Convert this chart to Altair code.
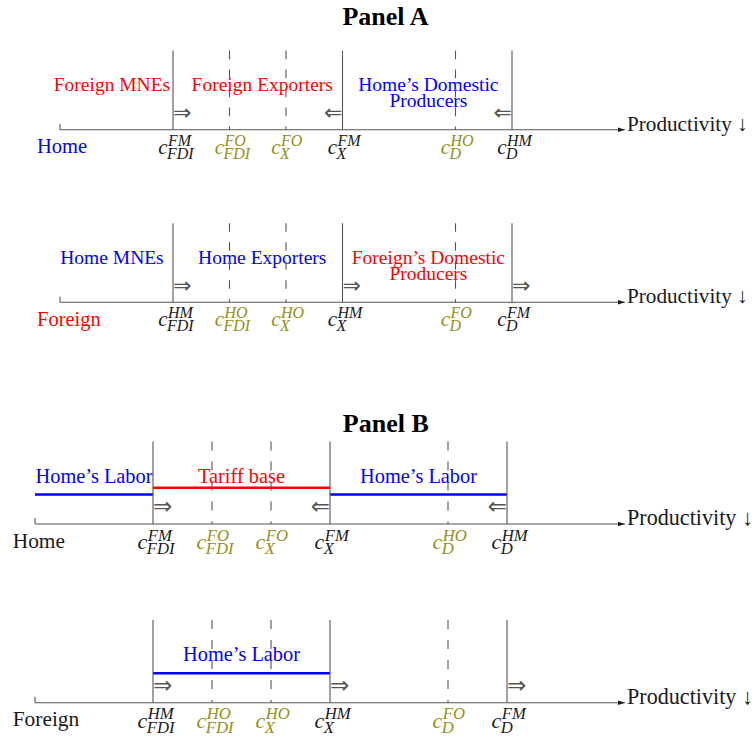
import altair as alt
import pandas as pd

# ------------------------------------------------------------------
# Cutoffs on the productivity axis (model units, higher = less productive)
# ------------------------------------------------------------------
cutoffs = [2, 3, 4, 5, 7, 8]
cutoff_dashed = [False, True, True, False, True, False]
axis_end = 10

home_sup = ["FM", "FO", "FO", "FM", "HO", "HM"]
foreign_sup = ["HM", "HO", "HO", "HM", "FO", "FM"]
cut_sub = ["FDI", "FDI", "X", "X", "D", "D"]

# direction in which each solid cutoff shifts
shift_at = [2, 5, 8]
home_shift = ["⇒", "⇐", "⇐"]
foreign_shift = ["⇒", "⇒", "⇒"]

# Panel A: sorting of firms into modes
a_home_text = ["Foreign MNEs", "Foreign Exporters", "Home’s Domestic", "Producers"]
a_home_party = ["F", "F", "H", "H"]
a_foreign_text = ["Home MNEs", "Home Exporters", "Foreign’s Domestic", "Producers"]
a_foreign_party = ["H", "H", "F", "F"]
a_text_x = [0.92, 3.58, 6.52, 6.52]
a_text_line = [1, 1, 1, 2]

# Panel B: who bears the cost in each band
b_home_text = ["Home’s Labor", "Tariff base", "Home’s Labor"]
b_home_party = ["H", "F", "H"]
b_home_from = [0, 2, 5]
b_home_to = [2, 5, 8]
b_foreign_text = ["Home’s Labor"]
b_foreign_party = ["H"]
b_foreign_from = [2]
b_foreign_to = [5]

# ------------------------------------------------------------------
# Styling
# ------------------------------------------------------------------
W = 756
FONT = "Liberation Serif, DejaVu Serif"
ARROW_FONT = "DejaVu Sans"
LINE = "#555555"
INK = "#1a1a1a"
OLIVE = "#948f14"
PARTY = {"H": "#0000ff", "F": "#ff0000"}
SEG_LEVEL = {"H": 0.5, "F": 0.615}

GEOM_A = dict(x0=60, y0=129.7, unit=56.5, h=369, k=1.0, rows=[0.0, -3.055],
              title_x=5.76, title_y=1.853, name_x=-0.407, name_dy=-0.416,
              line_y={1: 0.685, 2: 0.396}, arrow_dy=0.29, dash=[8.6, 10.4])
GEOM_B = dict(x0=35, y0=155, unit=59, h=369, k=1.044, rows=[0.0, -3.029],
              title_x=5.946, title_y=1.564, name_x=-0.378, name_dy=-0.40,
              line_y={1: 0.70, 2: 0.41}, arrow_dy=0.28, dash=[9, 11])
CUT_H = 1.4
TICK_H = 0.1


def panel(g, title, rows):
    u, k = g["unit"], g["k"]
    xs = alt.Scale(domain=[-g["x0"] / u, (W - g["x0"]) / u], nice=False, zero=False)
    ys = alt.Scale(domain=[(g["y0"] - g["h"]) / u, g["y0"] / u], nice=False, zero=False)
    X = lambda f="x": alt.X(f"{f}:Q", scale=xs, axis=None)
    Y = lambda f="y": alt.Y(f"{f}:Q", scale=ys, axis=None)
    C = alt.Color("color:N", scale=None)

    cuts, axes, names, regions, segs, shifts = [], [], [], [], [], []
    for yb, r in zip(g["rows"], rows):
        for c, d, sp, sb in zip(cutoffs, cutoff_dashed, r["sup"], cut_sub):
            cuts.append(dict(x=c, y=yb + CUT_H, y2=yb, dashed=d, sup=sp, sub=sb,
                             color=OLIVE if d else INK,
                             yc=yb - 0.425, ysup=yb - 0.28, ysub=yb - 0.51))
        axes.append(dict(x=0, x2=axis_end, y=yb, y2=yb + TICK_H,
                         text="Productivity ↓"))
        names.append(dict(x=g["name_x"], y=yb + g["name_dy"], text=r["name"],
                          color=r["name_color"]))
        for t, p, x, ln in r.get("regions", []):
            regions.append(dict(x=x, y=yb + g["line_y"][ln], text=t, color=PARTY[p]))
        for t, p, a, b in r.get("segs", []):
            segs.append(dict(x=a, x2=b, y=yb + SEG_LEVEL[p], color=PARTY[p]))
            regions.append(dict(x=(a + b) / 2, y=yb + g["line_y"][1], text=t,
                                color=PARTY[p]))
        for a, s in zip(shift_at, r["shift"]):
            shifts.append(dict(x=a, y=yb + g["arrow_dy"], text=s))

    cut_df = pd.DataFrame(cuts)
    axis_df = pd.DataFrame(axes)
    shift_df = pd.DataFrame(shifts)
    right_df = shift_df[shift_df.text == "⇒"]
    left_df = shift_df[shift_df.text == "⇐"]

    layers = []
    # band labels
    layers.append(alt.Chart(pd.DataFrame(regions)).mark_text(
        font=FONT, fontSize=19.5 * k, align="center", baseline="alphabetic"
    ).encode(x=X(), y=Y(), text="text:N", color=C))
    # incidence segments
    if segs:
        layers.append(alt.Chart(pd.DataFrame(segs)).mark_rule(strokeWidth=2.5).encode(
            x=X(), x2="x2:Q", y=Y(), color=C))
    # cutoff lines
    layers.append(alt.Chart(cut_df[~cut_df.dashed]).mark_rule(
        color=LINE, strokeWidth=1.1).encode(x=X(), y=Y(), y2="y2:Q"))
    layers.append(alt.Chart(cut_df[cut_df.dashed]).mark_rule(
        color=LINE, strokeWidth=1.1, strokeDash=g["dash"]).encode(x=X(), y=Y(), y2="y2:Q"))
    # productivity axis with arrowhead and start tick
    layers.append(alt.Chart(axis_df).mark_rule(color=LINE, strokeWidth=1.1).encode(
        x=X(), x2="x2:Q", y=Y()))
    layers.append(alt.Chart(axis_df).mark_rule(color=LINE, strokeWidth=1.1).encode(
        x=X(), y=Y(), y2="y2:Q"))
    layers.append(alt.Chart(axis_df).mark_point(
        shape="M-1,-0.65L1,0L-1,0.65Z", filled=True, size=49, color=INK,
        strokeWidth=0, opacity=1, xOffset=-3.5).encode(x=X("x2"), y=Y()))
    layers.append(alt.Chart(axis_df).mark_text(
        font=FONT, fontSize=21.2 * k, align="left", baseline="alphabetic", dx=2, dy=1,
        color=INK).encode(x=X("x2"), y=Y(), text="text:N"))
    # economy names
    layers.append(alt.Chart(pd.DataFrame(names)).mark_text(
        font=FONT, fontSize=20.5 * k, align="left", baseline="alphabetic"
    ).encode(x=X(), y=Y(), text="text:N", color=C))
    # cutoff labels c^{sup}_{sub}
    layers.append(alt.Chart(cut_df).mark_text(
        text="c", font=FONT, fontStyle="italic", fontSize=21 * k, align="right",
        baseline="alphabetic", dx=-5.5 * k).encode(x=X(), y=Y("yc"), color=C))
    layers.append(alt.Chart(cut_df).mark_text(
        font=FONT, fontStyle="italic", fontSize=16 * k, align="left",
        baseline="alphabetic", dx=-5 * k).encode(x=X(), y=Y("ysup"), text="sup:N", color=C))
    layers.append(alt.Chart(cut_df).mark_text(
        font=FONT, fontStyle="italic", fontSize=16 * k, align="left",
        baseline="alphabetic", dx=-6 * k).encode(x=X(), y=Y("ysub"), text="sub:N", color=C))
    # shift arrows
    if len(right_df):
        layers.append(alt.Chart(right_df).mark_text(
            font=ARROW_FONT, fontSize=22 * k, align="left", baseline="middle",
            color="#555555").encode(x=X(), y=Y(), text="text:N"))
    if len(left_df):
        layers.append(alt.Chart(left_df).mark_text(
            font=ARROW_FONT, fontSize=22 * k, align="right", baseline="middle",
            color="#555555").encode(x=X(), y=Y(), text="text:N"))
    # panel heading
    layers.append(alt.Chart(pd.DataFrame([dict(x=g["title_x"], y=g["title_y"], text=title)]))
                  .mark_text(font=FONT, fontWeight="bold", fontSize=26, align="center",
                             baseline="alphabetic", color="#000000")
                  .encode(x=X(), y=Y(), text="text:N"))

    return alt.layer(*layers).properties(width=W, height=g["h"])


panel_a = panel(GEOM_A, "Panel A", [
    dict(name="Home", name_color=PARTY["H"], sup=home_sup, shift=home_shift,
         regions=list(zip(a_home_text, a_home_party, a_text_x, a_text_line))),
    dict(name="Foreign", name_color=PARTY["F"], sup=foreign_sup, shift=foreign_shift,
         regions=list(zip(a_foreign_text, a_foreign_party, a_text_x, a_text_line))),
])

panel_b = panel(GEOM_B, "Panel B", [
    dict(name="Home", name_color=INK, sup=home_sup, shift=home_shift,
         segs=list(zip(b_home_text, b_home_party, b_home_from, b_home_to))),
    dict(name="Foreign", name_color=INK, sup=foreign_sup, shift=foreign_shift,
         segs=list(zip(b_foreign_text, b_foreign_party, b_foreign_from, b_foreign_to))),
])

chart = alt.vconcat(panel_a, panel_b, spacing=0, bounds="flush").properties(
    padding=0, background="white"
).configure_view(strokeWidth=0)

chart.save("out.html", embed_options={"renderer": "svg", "actions": False})
